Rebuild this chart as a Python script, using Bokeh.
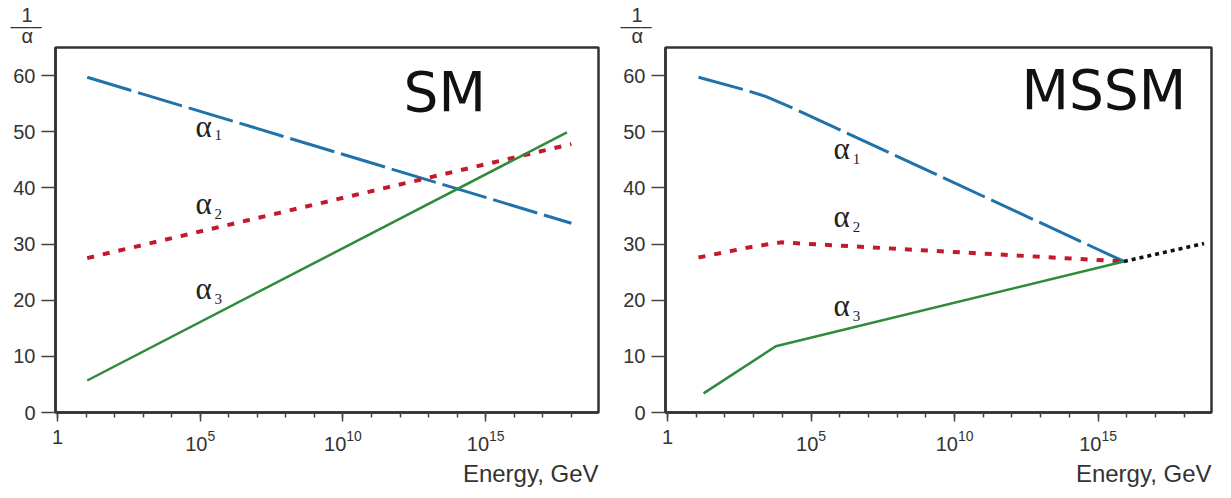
from bokeh.plotting import figure
from bokeh.models import Range1d, FixedTicker, Label, Title
from bokeh.layouts import row
from bokeh.embed import file_html
from bokeh.resources import INLINE

# ---------------- data (energies in GeV, values are 1/alpha) ----------------
sm_a1_energy = [1.1e1, 1.0e18]
sm_a1 = [59.7, 33.7]
sm_a2_energy = [1.1e1, 1.0e18]
sm_a2 = [27.5, 47.8]
sm_a3_energy = [1.1e1, 7.0e17]
sm_a3 = [5.7, 49.9]

mssm_a1_energy = [1.2e1, 5.4e2, 2.6e3, 3.5e4, 7.9e15]
mssm_a1 = [59.7, 57.4, 56.3, 53.8, 26.9]
mssm_a2_energy = [1.2e1, 6.8e2, 8.9e3, 5.0e5, 7.9e15]
mssm_a2 = [27.6, 29.4, 30.3, 29.8, 26.9]
mssm_a3_energy = [1.8e1, 5.9e3, 7.9e15]
mssm_a3 = [3.4, 11.8, 26.9]
mssm_ext_energy = [7.9e15, 4.9e18]
mssm_ext = [26.9, 30.1]

x_major = [1, 1e5, 1e10, 1e15]
x_label_overrides = {1: "1"}
x_minor = [10.0 ** k for k in range(0, 20)]
y_major = [0, 10, 20, 30, 40, 50, 60]

BLUE = "#1f72aa"
RED = "#c4182c"
GREEN = "#2f8a3b"
DARK = "#333333"
SANS = "Liberation Sans"
SERIF = "Liberation Serif"
FIG_SPACE = "\u2007"


def lbl(p, x, y, text, size, font=SANS, align="left", color=DARK):
    p.add_layout(Label(x=x, y=y, text=text, text_font=font, text_font_size=f"{size}px",
                       text_align=align, text_baseline="middle", text_color=color))


def make_panel(width, mbl, mbr):
    p = figure(width=width, height=496, x_axis_type="log",
               x_range=Range1d(10 ** -0.07, 10 ** 18.95), y_range=Range1d(0, 65.0),
               output_backend="svg", toolbar_location=None,
               min_border_left=mbl, min_border_right=mbr,
               min_border_top=47, min_border_bottom=84)
    p.grid.visible = False
    p.outline_line_color = DARK
    p.outline_line_width = 2.5
    p.outline_line_alpha = 1.0
    p.background_fill_color = "white"
    p.border_fill_color = "white"

    p.xaxis.ticker = FixedTicker(ticks=x_major, minor_ticks=x_minor)
    p.xaxis.major_label_overrides = x_label_overrides
    p.xaxis.major_tick_in = 0
    p.xaxis.major_tick_out = 9
    p.xaxis.minor_tick_in = 0
    p.xaxis.minor_tick_out = 5
    p.xaxis.major_label_standoff = 8

    p.yaxis.ticker = FixedTicker(ticks=y_major, minor_ticks=[])
    p.yaxis.major_tick_in = 0
    p.yaxis.major_tick_out = 14
    p.yaxis.minor_tick_out = 0
    p.yaxis.major_label_standoff = 6

    for ax in (p.xaxis[0], p.yaxis[0]):
        ax.axis_line_color = DARK
        ax.axis_line_width = 2.5
        ax.major_tick_line_color = "#444444"
        ax.major_tick_line_width = 1.5
        ax.minor_tick_line_color = "#444444"
        ax.minor_tick_line_width = 1.5
        ax.major_label_text_font = SANS
        ax.major_label_text_font_size = "20px"
        ax.major_label_text_color = DARK

    # 1/alpha stacked label above the y axis
    p.add_layout(Title(text=FIG_SPACE + "1\n—–\n" + FIG_SPACE + "α", align="left",
                       offset=-45, standoff=0, text_font=SANS, text_font_size="20px",
                       text_font_style="normal", text_color=DARK,
                       text_line_height=0.48), "above")
    # x axis caption, right aligned under the frame
    p.add_layout(Title(text="Energy, GeV", align="right", standoff=9,
                       text_font=SANS, text_font_size="24px",
                       text_font_style="normal", text_color=DARK), "below")
    return p


# ---------------- SM panel ----------------
p1 = make_panel(608, 55, 10)
p1.line(sm_a1_energy, sm_a1, line_color=BLUE, line_width=3, line_dash="46 7")
p1.line(sm_a2_energy, sm_a2, line_color=RED, line_width=4, line_dash="7 9")
p1.line(sm_a3_energy, sm_a3, line_color=GREEN, line_width=2.5)

lbl(p1, 10 ** 12.12, 57.0, "SM", 55, font="DejaVu Sans", color="#111111")
for ya, ys, sub in ((50.9, 49.4, "1"), (37.2, 35.3, "2"), (22.1, 20.2, "3")):
    lbl(p1, 10 ** 4.83, ya, "α", 31, font=SERIF, color="#222222")
    lbl(p1, 10 ** 5.50, ys, sub, 15, font=SERIF, color="#222222")

# ---------------- MSSM panel ----------------
p2 = make_panel(621, 57, 18)
p2.line(mssm_a1_energy, mssm_a1, line_color=BLUE, line_width=3, line_dash="46 7")
p2.line(mssm_a2_energy, mssm_a2, line_color=RED, line_width=4, line_dash="7 9")
p2.line(mssm_a3_energy, mssm_a3, line_color=GREEN, line_width=2.5)
p2.line(mssm_ext_energy, mssm_ext, line_color="#111111", line_width=3.5, line_dash="4 4")

lbl(p2, 10 ** 12.33, 57.5, "MSSM", 55, font="DejaVu Sans", color="#111111")
for ya, ys, sub in ((47.0, 45.1, "1"), (34.9, 33.0, "2"), (19.1, 17.2, "3")):
    lbl(p2, 10 ** 5.78, ya, "α", 31, font=SERIF, color="#222222")
    lbl(p2, 10 ** 6.45, ys, sub, 15, font=SERIF, color="#222222")

layout = row(p1, p2)
open("out.html", "w").write(file_html(layout, INLINE))
